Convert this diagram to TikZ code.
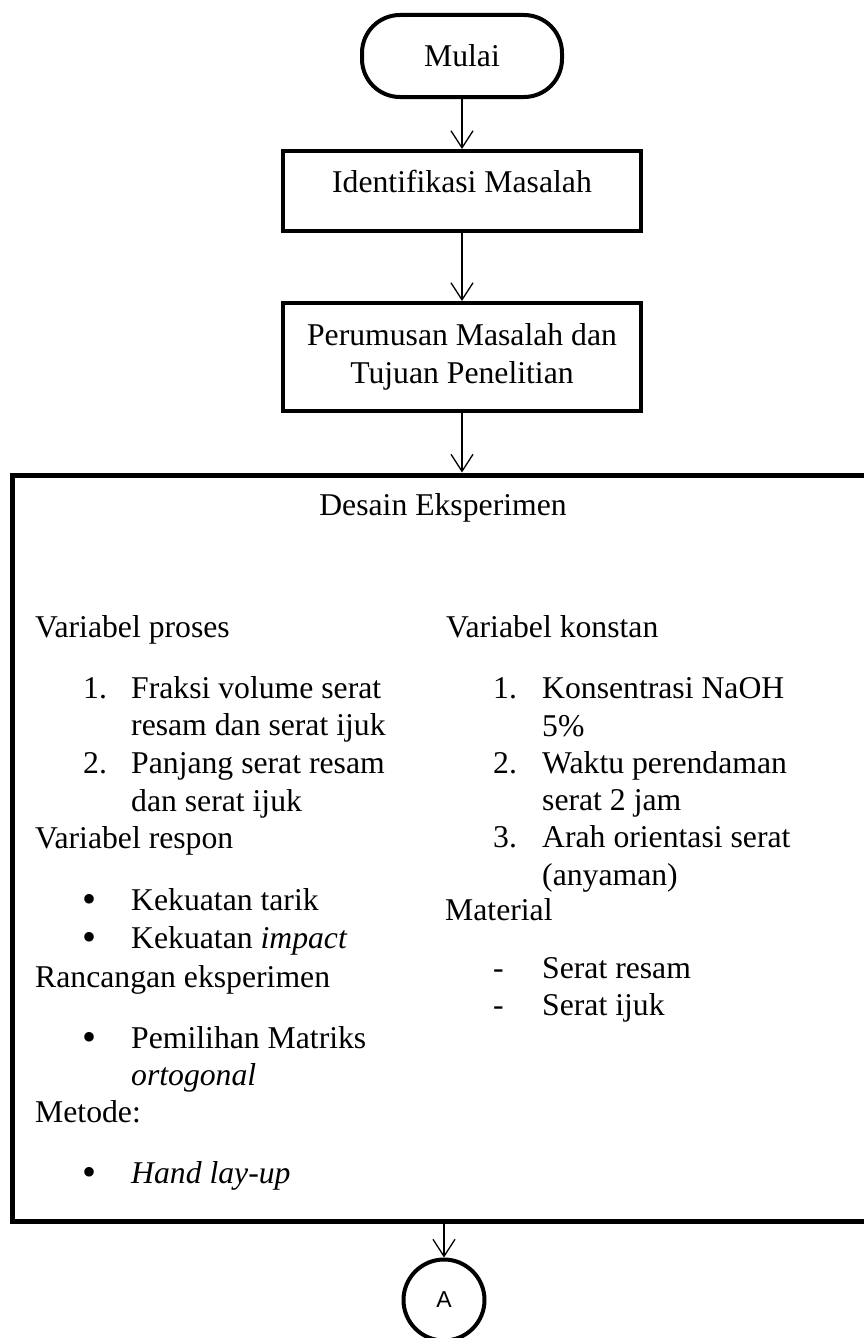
\documentclass[tikz,border=0pt]{standalone}
\usepackage{fontspec}
\setmainfont{Liberation Serif}
\newfontfamily\arialfont{Liberation Sans}
\usetikzlibrary{positioning,arrows.meta}

\begin{document}
\begin{tikzpicture}[x=1pt, y=-1pt, node distance=50pt,
  every node/.style={font=\fontsize{31.7}{37.6}\selectfont},
  terminal/.style={rectangle, draw, line width=4pt, rounded corners=38pt, minimum width=200pt, minimum height=82pt},
  flowbox/.style={rectangle, draw, line width=4pt, text centered, minimum width=358pt, minimum height=80pt},
  connector/.style={circle, draw, line width=4pt, minimum size=81pt, inner sep=0pt, font=\arialfont\fontsize{23}{26}\selectfont},
  txt/.style={anchor=base west, inner sep=0pt},
  bulletmark/.style={anchor=base, inner sep=0pt, font=\fontsize{40}{40}\selectfont},
  arr/.style={line width=1.3pt, -{Straight Barb[length=17pt, width=22pt, line width=1.3pt]}}]

\useasboundingbox (0,0) rectangle (864,1338);

\node [terminal] (mulai) at (462,56) {Mulai};
\node [flowbox, below=50pt of mulai, text height=22pt, text depth=20pt] (identifikasi) {Identifikasi Masalah};
\node [flowbox, below=68pt of identifikasi, align=center, minimum height=108pt] (perumusan) {Perumusan Masalah dan\\Tujuan Penelitian};

\node [draw, line width=5pt, minimum width=862pt, minimum height=746pt, inner sep=0pt] (desain) at (443,848) {};
\node [anchor=base, inner sep=0pt] (judul) at (443,515) {Desain Eksperimen};
\node [connector, text depth=-4pt] (konektor) at (444,1300) {A};

\draw [arr] (mulai) -- (identifikasi);
\draw [arr] (identifikasi) -- (perumusan);
\draw [arr] (perumusan) -- (perumusan |- desain.north);
\draw [arr] (desain.south -| konektor) -- (konektor);

% kolom kiri
\node [txt] (vproses) at (35,637) {Variabel proses};
\node [txt] (n1) at (83,698) {1.};
\node [txt] (fraksi) at (131,698) {Fraksi volume serat};
\node [txt] (fraksiB) at (131,735) {resam dan serat ijuk};
\node [txt] (n2) at (83,773) {2.};
\node [txt] (panjang) at (131,773) {Panjang serat resam};
\node [txt] (panjangB) at (131,811) {dan serat ijuk};
\node [txt] (vrespon) at (35,848) {Variabel respon};
\node [bulletmark] (bul1) at (90,912) {•};
\node [txt] (tarik) at (131,910) {Kekuatan tarik};
\node [bulletmark] (bul2) at (90,950) {•};
\node [txt] (impact) at (131,948) {Kekuatan \textit{impact}};
\node [txt] (rancangan) at (35,987) {Rancangan eksperimen};
\node [bulletmark] (bul3) at (90,1050) {•};
\node [txt] (pemilihan) at (131,1048) {Pemilihan Matriks};
\node [txt] (ortogonal) at (131,1085) {\textit{ortogonal}};
\node [txt] (metode) at (35,1122) {Metode:};
\node [bulletmark] (bul4) at (90,1185) {•};
\node [txt] (handlayup) at (131,1183) {\textit{Hand lay-up}};

% kolom kanan
\node [txt] (vkonstan) at (446,637) {Variabel konstan};
\node [txt] (m1) at (493,698) {1.};
\node [txt] (naoh) at (542,698) {Konsentrasi NaOH};
\node [txt] (naohB) at (542,736) {5\%};
\node [txt] (m2) at (493,773) {2.};
\node [txt] (waktu) at (542,773) {Waktu perendaman};
\node [txt] (waktuB) at (542,810) {serat 2 jam};
\node [txt] (m3) at (493,847) {3.};
\node [txt] (arah) at (542,847) {Arah orientasi serat};
\node [txt] (arahB) at (542,885) {(anyaman)};
\node [txt] (material) at (445,920) {Material};
\node [txt] (d1) at (493,978) {-};
\node [txt] (resam) at (542,978) {Serat resam};
\node [txt] (d2) at (493,1015) {-};
\node [txt] (ijuk) at (542,1015) {Serat ijuk};
\end{tikzpicture}
\end{document}
